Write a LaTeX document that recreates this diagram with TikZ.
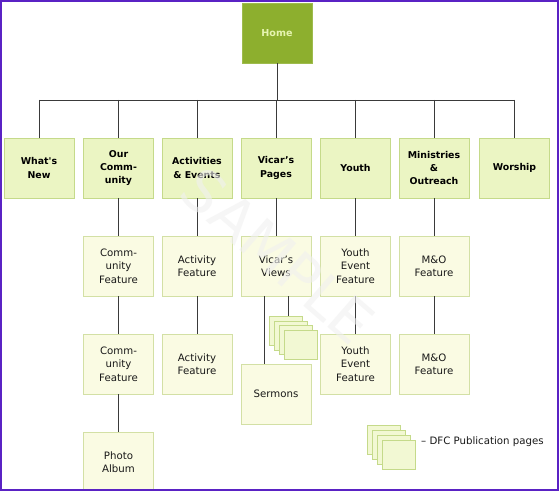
\documentclass[tikz,border=0pt]{standalone}
\usepackage{fontspec}
\setmainfont{DejaVu Sans}[Ligatures=TeXOff]
\usetikzlibrary{calc}
\definecolor{homegreen}{HTML}{8DAF2E}
\definecolor{hometext}{HTML}{E6F4B0}
\definecolor{topfill}{HTML}{EBF5C3}
\definecolor{topborder}{HTML}{C5DA8A}
\definecolor{subfill}{HTML}{FAFBE3}
\definecolor{subborder}{HTML}{D3E0A5}
\definecolor{framecol}{HTML}{5A22C4}
\definecolor{linecol}{HTML}{3A3A3A}
\definecolor{wmcol}{HTML}{F0F0F0}
\begin{document}
\begin{tikzpicture}[x=1pt,y=-1pt,
 box/.style={draw, line width=0.8pt, minimum width=70pt, minimum height=60pt, inner sep=0pt, align=center, text width=66pt},
 homebox/.style={box, fill=homegreen, draw=homegreen!85!white, text=hometext, font=\fontsize{9.6}{13.3}\selectfont\bfseries},
 topbox/.style={box, fill=topfill, draw=topborder, font=\fontsize{9.4}{13.3}\selectfont\bfseries},
 subbox/.style={box, fill=subfill, draw=subborder, text=black!90, font=\fontsize{10.2}{13.3}\selectfont},
 pagebox/.style={draw=topborder, fill=subfill!50!topfill, line width=0.8pt, minimum width=33pt, minimum height=29pt, inner sep=0pt, anchor=north west},
 conn/.style={draw=linecol, line width=0.8pt},
]
\useasboundingbox (0,0) rectangle (559,492);
\fill[white] (0,0) rectangle (559,492);

% home
\node[homebox] (home) at (277,33) {Home};

% row 1
\node[topbox] (n1) at (39,168) {What's\\New};
\node[topbox] (n2) at (118.5,168) {Our\\Comm-\\unity};
\node[topbox] (n3) at (197,168) {Activities\\\& Events};
\node[topbox] (n4) at (276,168) {Vicar’s\\Pages};
\node[topbox] (n5) at (355.5,168) {Youth};
\node[topbox] (n6) at (434,168) {Ministries\\\&\\Outreach};
\node[topbox] (n7) at (514.5,168) {Worship};

% row 2
\node[subbox] (c2) at (118.5,266) {Comm-\\unity\\Feature};
\node[subbox] (a2) at (197,266) {Activity\\Feature};
\node[subbox] (vv) at (276,266) {Vicar’s\\Views};
\node[subbox] (y2) at (355.5,266) {Youth\\Event\\Feature};
\node[subbox] (m2) at (434,266) {M\&O\\Feature};

% row 3
\node[subbox] (c3) at (118.5,364) {Comm-\\unity\\Feature};
\node[subbox] (a3) at (197,364) {Activity\\Feature};
\node[subbox] (y3) at (355.5,364) {Youth\\Event\\Feature};
\node[subbox] (m3) at (434,364) {M\&O\\Feature};
\node[subbox] (serm) at (276,394) {Sermons};

% row 4
\node[subbox] (photo) at (118.5,462) {Photo\\Album};

% page stack under Vicar's Views
\node[pagebox] (p1) at (269,316) {};
\node[pagebox] (p2) at (273.5,320.5) {};
\node[pagebox] (p3) at (278.5,325) {};
\node[pagebox] (p4) at (284,329.5) {};

% legend
\node[pagebox] (l1) at (367,425) {};
\node[pagebox] (l2) at (372,429.5) {};
\node[pagebox] (l3) at (377,434.5) {};
\node[pagebox] (l4) at (382,440) {};
\node[anchor=west, inner sep=0pt, text=black!90, font=\fontsize{10.2}{12}\selectfont] (legtext) at (421,442) {– DFC Publication pages};

% connectors
\coordinate (bus) at (0,100);
\draw[conn] (home.south) -- (home.south |- bus);
\draw[conn] (n1.north |- bus) -- (n7.north |- bus);
\foreach \n in {n1,n2,n3,n4,n5,n6,n7} {\draw[conn] (\n.north |- bus) -- (\n.north);}
\draw[conn] (n2.south) -- (c2.north);
\draw[conn] (c2.south) -- (c3.north);
\draw[conn] (c3.south) -- (photo.north);
\draw[conn] (n3.south) -- (a2.north);
\draw[conn] (a2.south) -- (a3.north);
\draw[conn] (n4.south) -- (vv.north);
\draw[conn] ([xshift=-12pt]vv.south) -- ([xshift=-12pt]vv.south |- serm.north);
\draw[conn] ([xshift=12pt]vv.south) -- ([xshift=12pt]vv.south |- p1.north);
\draw[conn] (n5.south) -- (y2.north);
\draw[conn] (y2.south) -- (y3.north);
\draw[conn] (n6.south) -- (m2.north);
\draw[conn] (m2.south) -- (m3.north);

% watermark
\node[rotate=-41, text=wmcol, opacity=0.6, font=\fontsize{58}{58}\selectfont] (wm) at (278,256) {SAMPLE};

% frame
\fill[white] (0,490.5) rectangle (559,492);
\draw[framecol, line width=1.6pt] (1,1) rectangle (558,490);
\end{tikzpicture}
\end{document}
